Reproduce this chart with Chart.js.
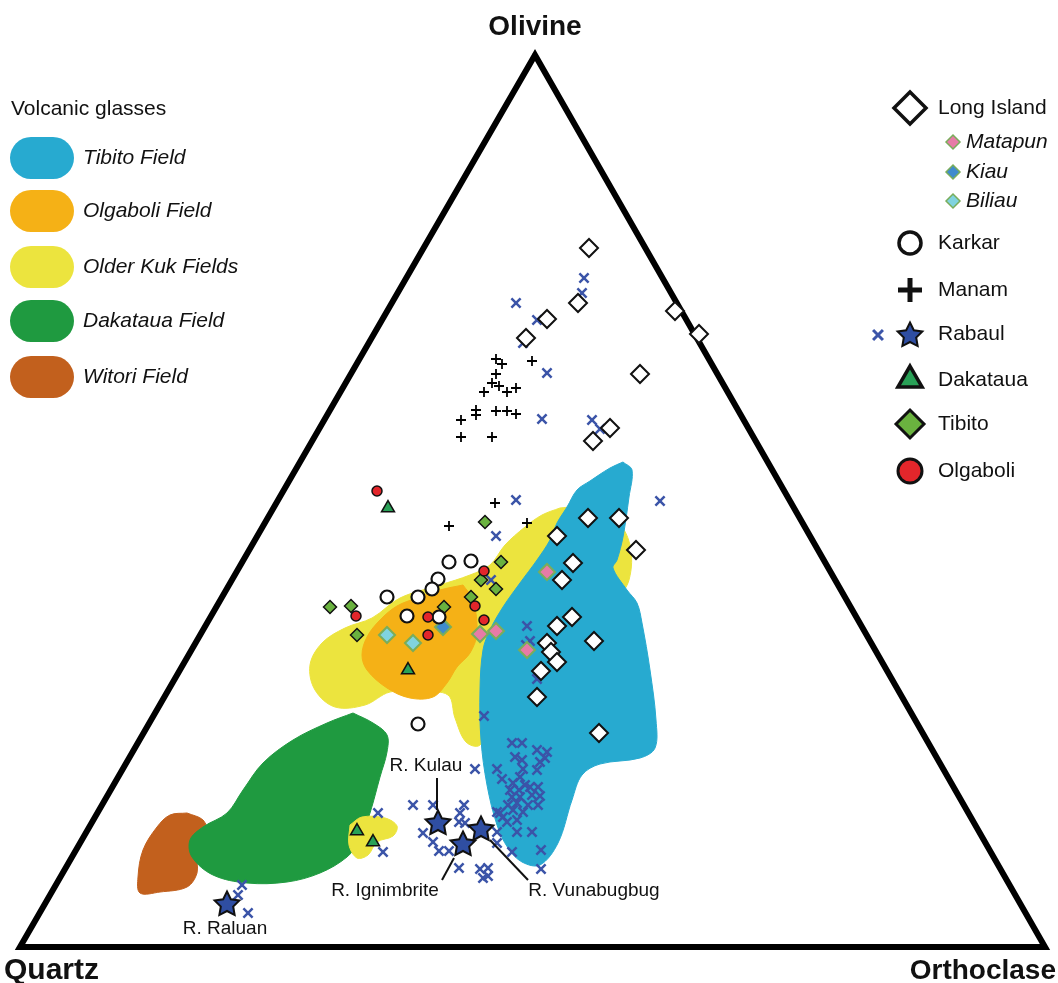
<!DOCTYPE html>
<html>
<head>
<meta charset="utf-8">
<title>Olivine - Quartz - Orthoclase</title>
<script src="https://cdn.jsdelivr.net/npm/chart.js@4.4.0/dist/chart.umd.min.js"></script>
<style>
	html, body { margin: 0; padding: 0; background: #ffffff; }
	#wrap { width: 1058px; height: 983px; position: relative; }
</style>
</head>
<body>
<div id="wrap"><canvas id="lienzo"></canvas></div>
<script>

// ternary frame, values (x to the right, y downwards)
const apices = ['Olivine', 'Quartz', 'Orthoclase'];
const triangle = [[535, 55], [20, 947], [1045, 947]];

// volcanic glass fields (outlines)
const fieldNames = ['Tibito Field', 'Olgaboli Field', 'Older Kuk Fields', 'Dakataua Field', 'Witori Field'];
const tibitoField = [[623,462],[632,470],[629,497],[623,537],[617,560],[613,568],[627,590],[637,603],[642,623],[650,670],[656,720],[655,748],[640,758],[600,764],[582,775],[572,800],[558,843],[540,865],[522,862],[508,848],[497,825],[487,785],[481,740],[480,690],[483,650],[490,630],[503,607],[520,583],[537,560],[550,540],[557,523],[567,507],[577,490],[590,481],[610,468]];
const olgaboliField = [[463,585],[473,600],[477,633],[470,653],[457,667],[447,683],[433,697],[410,698],[387,688],[367,670],[362,655],[367,637],[380,620],[397,606],[417,598],[440,590]];
const olderKukField = [[560,508],[590,506],[615,518],[630,545],[629,580],[615,600],[560,640],[510,700],[480,745],[466,742],[455,718],[448,695],[420,692],[390,692],[365,705],[335,707],[315,690],[310,665],[322,643],[345,628],[372,618],[400,598],[440,585],[470,575],[490,565],[505,545],[525,527],[542,515]];
const olderKukSmall = [[350,825],[362,817],[385,818],[397,826],[393,836],[377,842],[368,855],[357,858],[349,845]];
const dakatauaField = [[353,713],[373,723],[387,735],[387,752],[380,777],[370,813],[360,840],[347,857],[320,873],[287,882],[247,883],[213,875],[192,857],[190,840],[203,827],[227,813],[243,790],[263,763],[293,740],[327,723]];
const witoriField = [[187,813],[203,820],[207,833],[197,853],[197,873],[187,887],[160,892],[140,893],[138,877],[143,850],[157,827],[170,815]];

// samples
const longIsland = [[589,248],[578,303],[547,319],[526,338],[675,311],[699,334],[640,374],[610,428],[593,441],[588,518],[619,518],[557,536],[636,550],[573,563],[562,580],[572,617],[557,626],[594,641],[547,643],[551,652],[557,662],[541,671],[537,697],[599,733]];
const matapun = [[547,572],[480,634],[496,631],[527,650]];
const kiau = [[443,627]];
const biliau = [[387,635],[413,643]];
const karkar = [[449,562],[471,561],[438,579],[432,589],[387,597],[418,597],[407,616],[439,617],[418,724]];
const manam = [[496,359],[502,364],[532,361],[496,374],[492,383],[499,386],[507,392],[516,388],[484,392],[476,410],[476,415],[496,411],[507,411],[516,414],[461,420],[461,437],[492,437],[495,503],[449,526],[527,523]];
const rabaulGlass = [
	[516,303],[584,278],[582,293],[537,320],[523,343],[547,373],[542,419],[592,420],[600,429],
	[516,500],[660,501],[496,536],[491,580],[527,626],[530,641],[526,645],[537,679],[484,716],
	[512,743],[522,743],[537,750],[547,752],[545,758],[540,762],[515,757],[522,760],[497,769],[523,769],[537,770],[502,779],[520,777],[513,783],[525,785],[510,790],[519,790],[530,787],[538,787],[532,795],[540,796],[512,797],[520,797],[508,805],[517,803],[528,805],[538,805],[513,810],[523,812],[497,812],[503,817],[517,820],[507,822],[475,769],
	[517,832],[532,832],[541,850],[512,852],[541,869],[500,813],[497,832],[497,843],
	[413,805],[433,805],[464,805],[460,813],[459,822],[465,823],[423,833],[433,842],[439,851],[449,851],[459,868],[480,869],[488,868],[488,876],[483,878],[378,813],[383,852],
	[242,885],[238,895],[248,913]
];
const rabaulNames = ['R. Kulau', 'R. Ignimbrite', 'R. Vunabugbug', 'R. Raluan'];
const rabaulStars = [[438,822],[463,843],[481,828],[227,903]];
const dakataua = [[388,508],[408,670],[357,831],[373,842]];
const tibito = [[485,522],[501,562],[481,580],[496,589],[471,597],[444,607],[330,607],[351,606],[357,635]];
const olgaboli = [[377,491],[484,571],[356,616],[428,617],[475,606],[484,620],[428,635]];


var Ternary = {

	colors : {
		tibitoField: '#27aad0',
		olgaboliField: '#f5b116',
		olderKuk: '#ece43e',
		dakatauaField: '#1f9a40',
		witoriField: '#c2601d',
		rabaul: '#3b54a8',
		star: '#2f4ea2',
		matapun: '#e77ba7',
		kiau: '#3f8bce',
		biliau: '#80d3df',
		subEdge: '#79ad5b',
		tibito: '#6ab23f',
		dakataua: '#29a157',
		olgaboli: '#e3262b'
	},

	font : '"Liberation Sans", Arial, sans-serif',

	pts : function(arr){
		return arr.map(p => ({x: p[0], y: p[1]}));
	},

	field : function(arr, color, order){
		let closed = arr.concat([arr[0]]);
		return {
			type: 'line',
			data: Ternary.pts(closed),
			backgroundColor: color,
			borderColor: color,
			borderWidth: 1,
			fill: 'shape',
			tension: 0.35,
			pointRadius: 0,
			pointHitRadius: 0,
			order: order
		};
	},

	marks : function(arr, style, radius, fill, edge, bw, order){
		return {
			type: 'scatter',
			data: Ternary.pts(arr),
			pointStyle: style,
			pointRadius: radius,
			pointBackgroundColor: fill,
			pointBorderColor: edge,
			pointBorderWidth: bw,
			backgroundColor: fill,
			borderColor: edge,
			order: order
		};
	},

	makeStar : function(r, fill){
		const c = document.createElement('canvas');
		const s = Math.ceil(r * 2 + 4);
		c.width = s; c.height = s;
		const g = c.getContext('2d');
		g.beginPath();
		for (let i = 0; i < 10; i++) {
			const rr = (i % 2) ? r * 0.5 : r;
			const a = -Math.PI / 2 + i * Math.PI / 5;
			g.lineTo(s / 2 + rr * Math.cos(a), s / 2 + 1.5 + rr * Math.sin(a));
		}
		g.closePath();
		g.fillStyle = fill;
		g.fill();
		g.lineWidth = 2;
		g.lineJoin = 'miter';
		g.strokeStyle = '#111';
		g.stroke();
		return c;
	},

	ggg : function(lienzo){

		const C = Ternary.colors;
		const F = Ternary.font;
		const star = Ternary.makeStar(13, C.star);

		let frame = triangle.concat([triangle[0], triangle[1]]);

		let dtsts = [
			Ternary.field(witoriField, C.witoriField, 36),
			Ternary.field(olderKukField, C.olderKuk, 35),
			Ternary.field(dakatauaField, C.dakatauaField, 34),
			Ternary.field(olderKukSmall, C.olderKuk, 33),
			Ternary.field(olgaboliField, C.olgaboliField, 32),
			Ternary.field(tibitoField, C.tibitoField, 31),
			{
				type: 'line',
				data: Ternary.pts(frame),
				borderColor: '#000',
				borderWidth: 6,
				borderJoinStyle: 'miter',
				fill: false,
				tension: 0,
				pointRadius: 0,
				pointHitRadius: 0,
				order: 20
			},
			Ternary.marks(rabaulGlass, 'crossRot', 6.5, C.rabaul, C.rabaul, 2.5, 12),
			Ternary.marks(manam, 'cross', 5, '#000', '#000', 1.8, 11),
			Ternary.marks(longIsland, 'rectRot', 9, '#fff', '#111', 2, 10),
			Ternary.marks(matapun, 'rectRot', 8, C.matapun, C.subEdge, 2, 9),
			Ternary.marks(kiau, 'rectRot', 8, C.kiau, C.subEdge, 2, 9),
			Ternary.marks(biliau, 'rectRot', 8, C.biliau, C.subEdge, 2, 9),
			Ternary.marks(tibito, 'rectRot', 6.5, C.tibito, '#111', 1.5, 8),
			Ternary.marks(karkar, 'circle', 6.5, '#fff', '#111', 2.2, 7),
			Ternary.marks(olgaboli, 'circle', 5, C.olgaboli, '#111', 1.5, 6),
			Ternary.marks(dakataua, 'triangle', 7.5, C.dakataua, '#111', 1.5, 5),
			Ternary.marks(rabaulStars, star, 13, C.star, '#111', 0, 1)
		];

		const texts = {
			id: 'ternaryTexts',
			afterDatasetsDraw: (chart) => {
				const {ctx} = chart;
				const sx = chart.scales.x, sy = chart.scales.y;
				const px = v => sx.getPixelForValue(v);
				const py = v => sy.getPixelForValue(v);
				ctx.save();
				ctx.fillStyle = '#111';
				ctx.strokeStyle = '#111';

				// apices
				ctx.font = 'bold 28px ' + F;
				ctx.textBaseline = 'middle';
				ctx.textAlign = 'center';
				ctx.fillText(apices[0], px(triangle[0][0]), py(triangle[0][1]) - 28);
				ctx.textAlign = 'left';
				ctx.font = 'bold 30px ' + F;
				ctx.fillText(apices[1], px(triangle[1][0]) - 16, py(triangle[1][1]) + 24);
				ctx.textAlign = 'right';
				ctx.font = 'bold 28px ' + F;
				ctx.fillText(apices[2], px(triangle[2][0]) + 11, py(triangle[2][1]) + 24);

				// Rabaul star labels with leaders
				ctx.lineWidth = 2;
				const leaders = [[437,778,437,810],[454,858,442,880],[490,840,528,880]];
				leaders.forEach(l => {
					ctx.beginPath();
					ctx.moveTo(px(l[0]), py(l[1]));
					ctx.lineTo(px(l[2]), py(l[3]));
					ctx.stroke();
				});
				ctx.font = '19px ' + F;
				ctx.textAlign = 'center';
				const spots = [[426,766],[385,891],[594,891],[225,929]];
				rabaulNames.forEach((t, i) => {
					ctx.fillText(t, px(spots[i][0]), py(spots[i][1]));
				});
				ctx.restore();
			}
		};

		const legends = {
			id: 'ternaryLegends',
			afterDraw: (chart) => {
				const {ctx} = chart;
				ctx.save();
				ctx.textBaseline = 'middle';
				ctx.textAlign = 'left';
				ctx.fillStyle = '#111';

				// left: volcanic glasses
				ctx.font = '21px ' + F;
				ctx.fillText('Volcanic glasses', 11, 109);
				const swCol = [C.tibitoField, C.olgaboliField, C.olderKuk, C.dakatauaField, C.witoriField];
				const swY = [158, 211, 267, 321, 377];
				fieldNames.forEach((n, i) => {
					const x0 = 10, w = 64, h = 42, r = 21, y0 = swY[i] - h / 2;
					ctx.beginPath();
					ctx.moveTo(x0 + r, y0);
					ctx.arcTo(x0 + w, y0, x0 + w, y0 + h, r);
					ctx.arcTo(x0 + w, y0 + h, x0, y0 + h, r);
					ctx.arcTo(x0, y0 + h, x0, y0, r);
					ctx.arcTo(x0, y0, x0 + w, y0, r);
					ctx.closePath();
					ctx.fillStyle = swCol[i];
					ctx.fill();
					ctx.fillStyle = '#111';
					ctx.font = 'italic 21px ' + F;
					ctx.fillText(n, 83, swY[i]);
				});

				// right: samples
				const items = [
					{t: 'Long Island', s: 'rectRot', r: 16, f: '#fff', e: '#111', bw: 3.5, x: 910, y: 108, tx: 938},
					{t: 'Matapun', s: 'rectRot', r: 7, f: C.matapun, e: C.subEdge, bw: 1.5, x: 953, y: 142, tx: 966, it: true},
					{t: 'Kiau', s: 'rectRot', r: 7, f: C.kiau, e: C.subEdge, bw: 1.5, x: 953, y: 172, tx: 966, it: true},
					{t: 'Biliau', s: 'rectRot', r: 7, f: C.biliau, e: C.subEdge, bw: 1.5, x: 953, y: 201, tx: 966, it: true},
					{t: 'Karkar', s: 'circle', r: 11, f: '#fff', e: '#111', bw: 3.5, x: 910, y: 243, tx: 938},
					{t: 'Manam', s: 'cross', r: 12, f: '#111', e: '#111', bw: 5, x: 910, y: 290, tx: 938},
					{t: 'Rabaul', s: star, r: 13, f: C.star, e: '#111', bw: 0, x: 910, y: 334, tx: 938},
					{t: 'Dakataua', s: 'triangle', r: 14, f: C.dakataua, e: '#111', bw: 3.5, x: 910, y: 380, tx: 938},
					{t: 'Tibito', s: 'rectRot', r: 14, f: C.tibito, e: '#111', bw: 3, x: 910, y: 424, tx: 938},
					{t: 'Olgaboli', s: 'circle', r: 12, f: C.olgaboli, e: '#111', bw: 3, x: 910, y: 471, tx: 938}
				];
				items.forEach(it => {
					ctx.fillStyle = it.f;
					ctx.strokeStyle = it.e;
					ctx.lineWidth = it.bw;
					Chart.helpers.drawPoint(ctx, {pointStyle: it.s, radius: it.r, rotation: 0, borderWidth: it.bw}, it.x, it.y);
					ctx.fillStyle = '#111';
					ctx.font = (it.it ? 'italic ' : '') + '21px ' + F;
					ctx.fillText(it.t, it.tx, it.y);
				});
				// small glass cross next to the Rabaul star
				ctx.strokeStyle = C.rabaul;
				ctx.lineWidth = 3;
				Chart.helpers.drawPoint(ctx, {pointStyle: 'crossRot', radius: 7, rotation: 0, borderWidth: 3}, 878, 335);
				ctx.restore();
			}
		};

		const chart = new Chart(document.getElementById(lienzo), {
			type: 'scatter',
			data: { datasets: dtsts },
			options: {
				responsive: true,
				maintainAspectRatio: false,
				animation: false,
				layout: { padding: 0, autoPadding: false },
				scales: {
					x: { type: 'linear', min: 0, max: 1058, display: false },
					y: { type: 'linear', min: 0, max: 983, reverse: true, display: false }
				},
				plugins: {
					legend: { display: false },
					tooltip: { enabled: false }
				}
			},
			plugins: [texts, legends]
		});
		// console.log(chart);
	}
};

Ternary.ggg('lienzo');
</script>
</body>
</html>
